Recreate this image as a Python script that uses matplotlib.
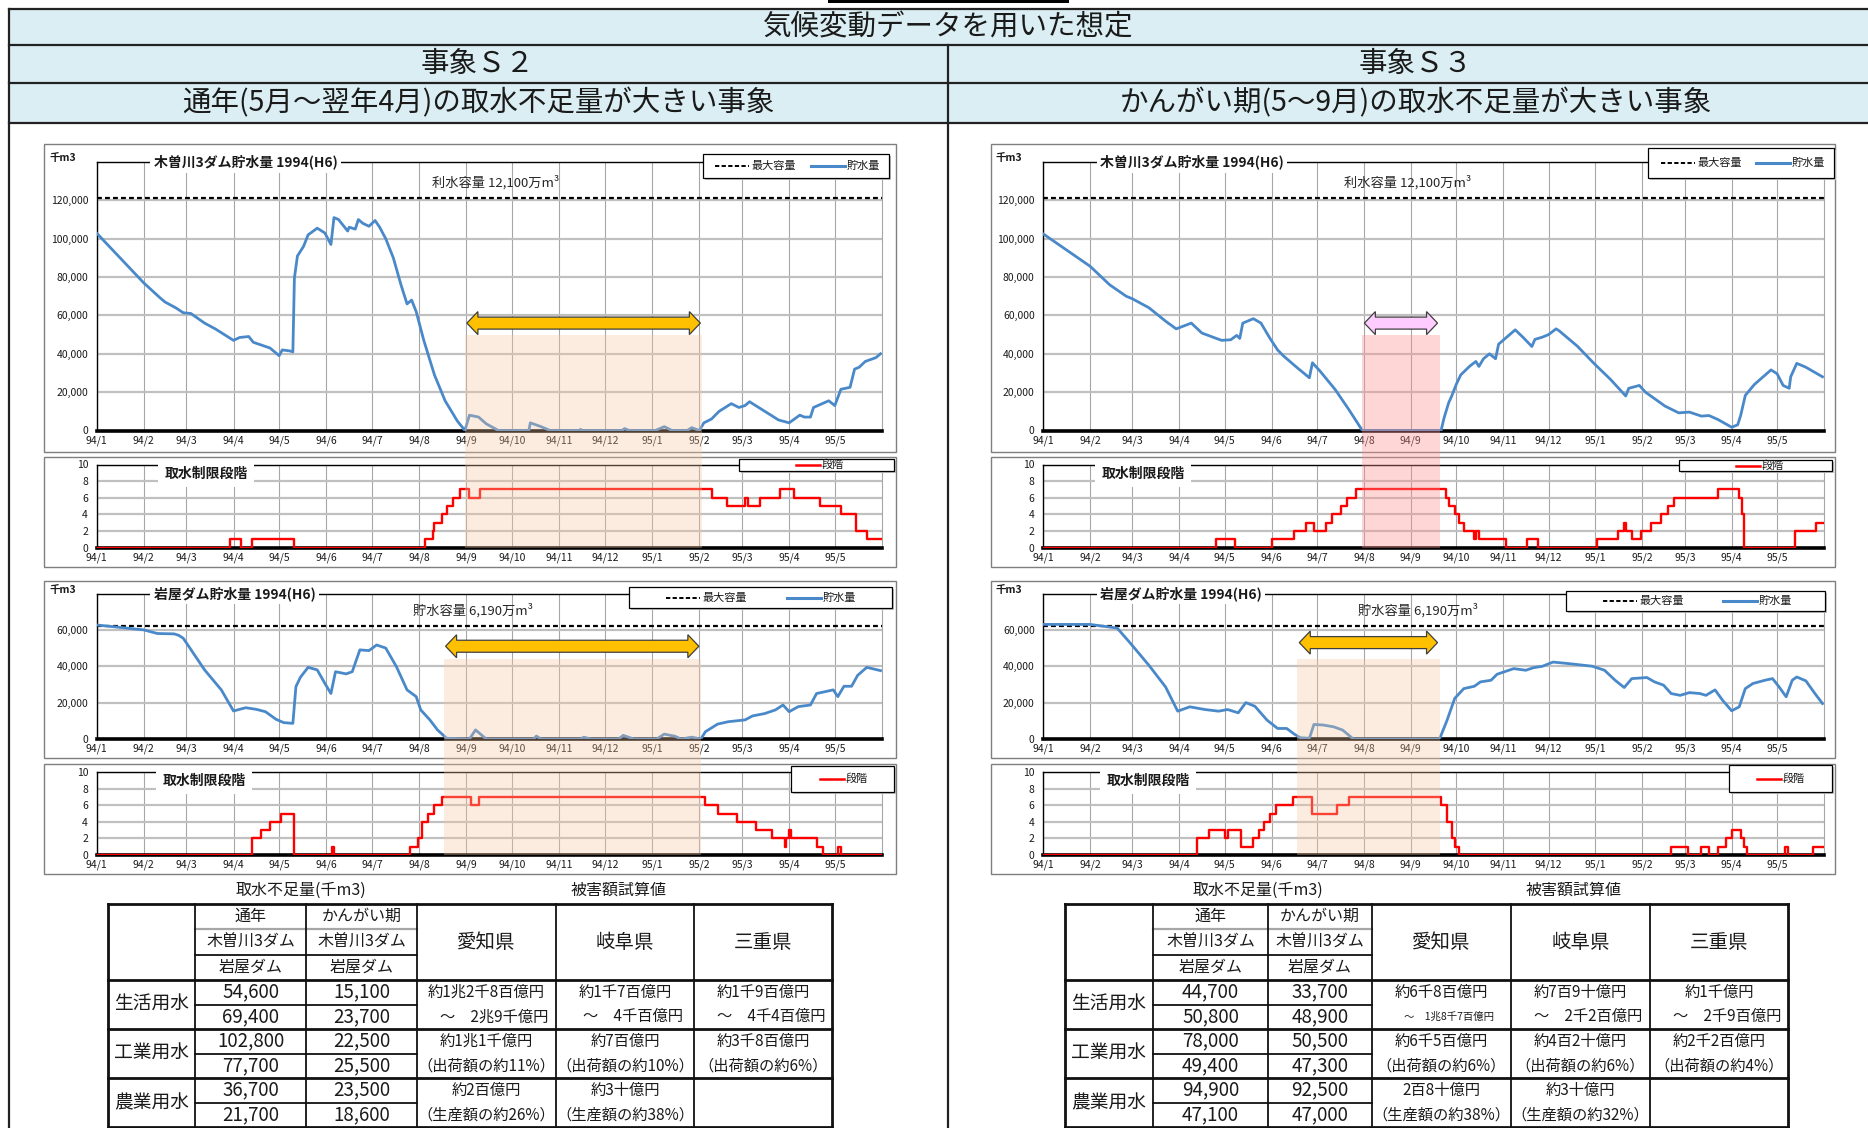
import numpy as np
import matplotlib
matplotlib.use('Agg')
import matplotlib.pyplot as plt
import matplotlib.dates as mdates
from matplotlib.lines import Line2D
from matplotlib.patches import Rectangle, Polygon

plt.rcParams['font.family'] = ['Noto Sans CJK JP', 'DejaVu Sans']

W, H = 1868, 1128

# ---------------------------------------------------------------- data
MONTH_LABELS = ['94/1', '94/2', '94/3', '94/4', '94/5', '94/6', '94/7', '94/8', '94/9',
                '94/10', '94/11', '94/12', '95/1', '95/2', '95/3', '95/4', '95/5']
PERIOD_START = '1994-01-01'
PERIOD_END = '1995-06-01'

KISO_CAPACITY = 121000   # 千m3 (12,100万m3)
IWAYA_CAPACITY = 61900   # 千m3 (6,190万m3)

# 木曽川3ダム 貯水量 (千m3), 事象S2
S2_KISO_STORAGE = [
    ('1994-01-01', 103000), ('1994-02-01', 77000), ('1994-02-12', 69000), ('1994-02-15', 67000),
    ('1994-02-22', 64000), ('1994-02-27', 61400), ('1994-03-04', 61000), ('1994-03-13', 56000),
    ('1994-03-20', 53000), ('1994-04-01', 47000), ('1994-04-05', 48500), ('1994-04-11', 49000),
    ('1994-04-14', 46000), ('1994-04-25', 43000), ('1994-05-01', 39000), ('1994-05-03', 42000),
    ('1994-05-08', 41500), ('1994-05-10', 41000), ('1994-05-11', 79500), ('1994-05-13', 91000),
    ('1994-05-17', 96000), ('1994-05-20', 102000), ('1994-05-26', 105500), ('1994-05-31', 103000),
    ('1994-06-04', 97000), ('1994-06-06', 111000), ('1994-06-09', 110000), ('1994-06-15', 104000),
    ('1994-06-16', 106000), ('1994-06-20', 105000), ('1994-06-22', 110000), ('1994-06-25', 108000),
    ('1994-06-29', 106500), ('1994-07-03', 109500), ('1994-07-06', 106000), ('1994-07-10', 100000),
    ('1994-07-15', 90000), ('1994-07-20', 76000), ('1994-07-24', 66000), ('1994-07-27', 68000),
    ('1994-07-30', 62000), ('1994-08-04', 47000), ('1994-08-11', 29000), ('1994-08-18', 15500),
    ('1994-08-26', 5000), ('1994-08-31', 0), ('1994-09-03', 8000), ('1994-09-09', 7000),
    ('1994-09-14', 3500), ('1994-09-22', 0), ('1994-10-12', 0), ('1994-10-13', 4000),
    ('1994-10-20', 2000), ('1994-10-26', 0), ('1994-11-14', 0), ('1994-11-15', 600),
    ('1994-11-16', 0), ('1994-12-12', 0), ('1994-12-14', 1000), ('1994-12-17', 0),
    ('1995-01-03', 0), ('1995-01-09', 2000), ('1995-01-14', 0), ('1995-01-24', 0),
    ('1995-01-27', 1500), ('1995-02-01', 0), ('1995-02-04', 4000), ('1995-02-09', 6000),
    ('1995-02-14', 10000), ('1995-02-22', 14000), ('1995-02-27', 12000), ('1995-03-03', 13000),
    ('1995-03-06', 15000), ('1995-03-12', 12000), ('1995-03-19', 8500), ('1995-03-25', 5500),
    ('1995-04-01', 4000), ('1995-04-08', 8000), ('1995-04-11', 7000), ('1995-04-15', 7000),
    ('1995-04-17', 12000), ('1995-04-27', 15500), ('1995-05-01', 13000), ('1995-05-05', 21500),
    ('1995-05-11', 22500), ('1995-05-14', 32000), ('1995-05-17', 33000), ('1995-05-21', 36000),
    ('1995-05-28', 38000), ('1995-05-31', 40000),
]
# 取水制限段階 (change date, stage)
S2_KISO_STAGE = [
    ('1994-01-01', 0), ('1994-03-30', 1), ('1994-04-06', 0), ('1994-04-13', 1), ('1994-05-11', 0),
    ('1994-08-05', 1), ('1994-08-10', 2), ('1994-08-11', 3), ('1994-08-16', 4), ('1994-08-19', 5),
    ('1994-08-23', 6), ('1994-08-28', 7), ('1994-09-03', 6), ('1994-09-10', 7), ('1995-02-09', 6),
    ('1995-02-19', 5), ('1995-03-03', 6), ('1995-03-05', 5), ('1995-03-13', 6), ('1995-03-26', 7),
    ('1995-04-04', 6), ('1995-04-21', 5), ('1995-05-05', 4), ('1995-05-15', 2), ('1995-05-22', 1),
    ('1995-06-01', 1),
]

# 岩屋ダム 貯水量 (千m3), 事象S2
S2_IWAYA_STORAGE = [
    ('1994-01-01', 62700), ('1994-02-01', 60000), ('1994-02-10', 58000), ('1994-02-21', 57800),
    ('1994-02-24', 57000), ('1994-02-27', 55400), ('1994-03-13', 38000), ('1994-03-24', 27000),
    ('1994-04-01', 15400), ('1994-04-09', 17200), ('1994-04-16', 16300), ('1994-04-22', 15000),
    ('1994-04-29', 10800), ('1994-05-04', 9000), ('1994-05-10', 8600), ('1994-05-12', 28800),
    ('1994-05-15', 34000), ('1994-05-20', 39400), ('1994-05-26', 38000), ('1994-05-31', 30600),
    ('1994-06-04', 25000), ('1994-06-07', 37000), ('1994-06-14', 35800), ('1994-06-18', 37000),
    ('1994-06-23', 49000), ('1994-06-29', 48600), ('1994-07-04', 51700), ('1994-07-10', 50000),
    ('1994-07-17', 39800), ('1994-07-24', 27000), ('1994-07-30', 23300), ('1994-08-02', 16000),
    ('1994-08-08', 10500), ('1994-08-13', 5000), ('1994-08-19', 400), ('1994-09-03', 0),
    ('1994-09-07', 5000), ('1994-09-14', 0), ('1994-10-15', 0), ('1994-10-17', 1600),
    ('1994-10-20', 0), ('1994-11-15', 0), ('1994-11-17', 1000), ('1994-11-22', 0),
    ('1994-12-10', 0), ('1994-12-13', 2000), ('1994-12-20', 0), ('1995-01-04', 0),
    ('1995-01-09', 2700), ('1995-01-16', 1500), ('1995-01-20', 0), ('1995-01-27', 1000),
    ('1995-02-02', 0), ('1995-02-05', 4000), ('1995-02-13', 8200), ('1995-02-20', 9500),
    ('1995-03-03', 10500), ('1995-03-08', 12700), ('1995-03-16', 14000), ('1995-03-23', 16000),
    ('1995-03-28', 18700), ('1995-04-01', 15000), ('1995-04-07', 17800), ('1995-04-15', 18700),
    ('1995-04-19', 25000), ('1995-04-30', 27000), ('1995-05-03', 23300), ('1995-05-07', 29000),
    ('1995-05-12', 29000), ('1995-05-16', 35000), ('1995-05-22', 39400), ('1995-05-31', 37600),
]
S2_IWAYA_STAGE = [
    ('1994-01-01', 0), ('1994-04-13', 2), ('1994-04-19', 3), ('1994-04-25', 4), ('1994-05-02', 5),
    ('1994-05-11', 0), ('1994-06-05', 1), ('1994-06-06', 0), ('1994-07-26', 1), ('1994-07-31', 2),
    ('1994-08-03', 4), ('1994-08-07', 5), ('1994-08-11', 6), ('1994-08-16', 7), ('1994-09-04', 6),
    ('1994-09-09', 7), ('1995-02-05', 6), ('1995-02-13', 5), ('1995-02-26', 4), ('1995-03-10', 3),
    ('1995-03-21', 2), ('1995-03-29', 1), ('1995-03-30', 2), ('1995-04-01', 3), ('1995-04-02', 2),
    ('1995-04-19', 1), ('1995-04-23', 0), ('1995-05-03', 1), ('1995-05-05', 0), ('1995-06-01', 0),
]

# 木曽川3ダム 貯水量 (千m3), 事象S3
S3_KISO_STORAGE = [
    ('1994-01-01', 102600), ('1994-02-01', 85700), ('1994-02-06', 82000), ('1994-02-14', 76000),
    ('1994-02-25', 70000), ('1994-03-01', 68700), ('1994-03-12', 64000), ('1994-03-23', 57000),
    ('1994-03-30', 53000), ('1994-04-09', 56000), ('1994-04-16', 50800), ('1994-04-29', 47000),
    ('1994-05-05', 47300), ('1994-05-09', 49600), ('1994-05-11', 48000), ('1994-05-13', 56000),
    ('1994-05-20', 58300), ('1994-05-25', 56000), ('1994-05-31', 48000), ('1994-06-05', 42000),
    ('1994-06-09', 38800), ('1994-06-18', 32700), ('1994-06-26', 27500), ('1994-06-28', 35300),
    ('1994-07-03', 31000), ('1994-07-13', 21400), ('1994-07-22', 11000), ('1994-07-31', 0),
    ('1994-09-21', 0), ('1994-09-23', 6600), ('1994-09-26', 14400), ('1994-09-28', 17900),
    ('1994-10-01', 24000), ('1994-10-04', 29000), ('1994-10-10', 33600), ('1994-10-14', 36000),
    ('1994-10-16', 33400), ('1994-10-19', 37400), ('1994-10-23', 40000), ('1994-10-27', 37400),
    ('1994-10-29', 45000), ('1994-11-09', 52500), ('1994-11-14', 48700), ('1994-11-20', 43800),
    ('1994-11-22', 47500), ('1994-11-27', 48700), ('1994-12-01', 50000), ('1994-12-06', 53000),
    ('1994-12-08', 52000), ('1994-12-20', 44000), ('1994-12-31', 35000), ('1995-01-11', 26600),
    ('1995-01-21', 18000), ('1995-01-23', 22000), ('1995-01-30', 23500), ('1995-02-03', 20000),
    ('1995-02-16', 12700), ('1995-02-25', 9200), ('1995-03-04', 9600), ('1995-03-12', 7500),
    ('1995-03-17', 7800), ('1995-03-23', 5700), ('1995-04-01', 1700), ('1995-04-05', 3000),
    ('1995-04-07', 8000), ('1995-04-10', 18300), ('1995-04-16', 24000), ('1995-04-27', 31600),
    ('1995-05-01', 29600), ('1995-05-05', 23500), ('1995-05-09', 22000), ('1995-05-10', 28000),
    ('1995-05-14', 35000), ('1995-05-20', 33000), ('1995-05-31', 28000),
]
S3_KISO_STAGE = [
    ('1994-01-01', 0), ('1994-04-25', 1), ('1994-05-08', 0), ('1994-06-01', 1), ('1994-06-16', 2),
    ('1994-06-24', 3), ('1994-06-29', 2), ('1994-07-07', 3), ('1994-07-11', 4), ('1994-07-17', 5),
    ('1994-07-21', 6), ('1994-07-27', 7), ('1994-09-24', 6), ('1994-09-26', 5), ('1994-09-30', 4),
    ('1994-10-03', 3), ('1994-10-06', 2), ('1994-10-13', 1), ('1994-10-14', 2), ('1994-10-16', 1),
    ('1994-11-03', 0), ('1994-11-17', 1), ('1994-11-24', 0), ('1995-01-02', 1), ('1995-01-16', 2),
    ('1995-01-20', 3), ('1995-01-21', 2), ('1995-01-25', 1), ('1995-01-31', 2), ('1995-02-07', 3),
    ('1995-02-13', 4), ('1995-02-18', 5), ('1995-02-22', 6), ('1995-03-23', 7), ('1995-04-06', 6),
    ('1995-04-08', 4), ('1995-04-09', 0), ('1995-05-13', 2), ('1995-05-27', 3), ('1995-06-01', 3),
]

# 岩屋ダム 貯水量 (千m3), 事象S3
S3_IWAYA_STORAGE = [
    ('1994-01-01', 63000), ('1994-02-01', 63000), ('1994-02-10', 62000), ('1994-02-19', 61000),
    ('1994-02-28', 52400), ('1994-03-12', 40500), ('1994-03-23', 28600), ('1994-03-31', 15300),
    ('1994-04-08', 17700), ('1994-04-18', 16200), ('1994-04-27', 15300), ('1994-05-03', 16200),
    ('1994-05-10', 14400), ('1994-05-15', 20000), ('1994-05-21', 18000), ('1994-05-29', 10400),
    ('1994-06-05', 5800), ('1994-06-11', 5800), ('1994-06-16', 2700), ('1994-06-20', 700),
    ('1994-06-26', 400), ('1994-06-29', 8000), ('1994-07-05', 7700), ('1994-07-12', 6700),
    ('1994-07-18', 4900), ('1994-07-25', 0), ('1994-09-20', 0), ('1994-09-25', 10400),
    ('1994-09-30', 22300), ('1994-10-06', 27700), ('1994-10-13', 29000), ('1994-10-17', 31400),
    ('1994-10-24', 32300), ('1994-10-28', 35600), ('1994-11-08', 38700), ('1994-11-16', 37800),
    ('1994-11-21', 39200), ('1994-11-27', 40000), ('1994-12-04', 42300), ('1994-12-15', 41400),
    ('1994-12-30', 40000), ('1995-01-07', 37800), ('1995-01-14', 32300), ('1995-01-20', 28300),
    ('1995-01-25', 33200), ('1995-02-04', 33800), ('1995-02-09', 31400), ('1995-02-15', 29600),
    ('1995-02-20', 25000), ('1995-02-26', 24000), ('1995-03-04', 25500), ('1995-03-11', 25000),
    ('1995-03-15', 24000), ('1995-03-21', 27000), ('1995-03-26', 21300), ('1995-04-01', 15500),
    ('1995-04-06', 17700), ('1995-04-10', 27700), ('1995-04-15', 30500), ('1995-04-23', 32300),
    ('1995-04-28', 33200), ('1995-05-02', 29000), ('1995-05-07', 23200), ('1995-05-11', 32300),
    ('1995-05-14', 34100), ('1995-05-20', 32000), ('1995-05-26', 25000), ('1995-05-31', 19500),
]
S3_IWAYA_STAGE = [
    ('1994-01-01', 0), ('1994-04-13', 2), ('1994-04-21', 3), ('1994-05-01', 2), ('1994-05-03', 3),
    ('1994-05-12', 1), ('1994-05-20', 2), ('1994-05-24', 3), ('1994-05-27', 4), ('1994-05-31', 5),
    ('1994-06-04', 6), ('1994-06-15', 7), ('1994-06-28', 5), ('1994-07-14', 6), ('1994-07-22', 7),
    ('1994-09-21', 6), ('1994-09-25', 4), ('1994-09-28', 2), ('1994-09-30', 1), ('1994-10-03', 0),
    ('1995-02-20', 1), ('1995-03-03', 0), ('1995-03-12', 1), ('1995-03-17', 0), ('1995-03-23', 1),
    ('1995-03-28', 2), ('1995-04-01', 3), ('1995-04-07', 2), ('1995-04-09', 1), ('1995-04-11', 0),
    ('1995-05-06', 1), ('1995-05-08', 0), ('1995-05-25', 1), ('1995-06-01', 1),
]

# 取水不足期間 (shaded)
S2_KISO_SHORT = ('1994-08-31', '1995-02-03')
S2_IWAYA_SHORT = ('1994-08-17', '1995-02-02')
S3_KISO_SHORT = ('1994-07-31', '1994-09-20')
S3_IWAYA_SHORT = ('1994-06-18', '1994-09-20')

# 取水不足量 (千m3): rows = 生活/工業/農業 x (木曽川3ダム, 岩屋ダム)
USES = ['生活用水', '工業用水', '農業用水']
PREFS = ['愛知県', '岐阜県', '三重県']
S2_SHORT_YEAR = [54600, 69400, 102800, 77700, 36700, 21700]
S2_SHORT_IRRIG = [15100, 23700, 22500, 25500, 23500, 18600]
S3_SHORT_YEAR = [44700, 50800, 78000, 49400, 94900, 47100]
S3_SHORT_IRRIG = [33700, 48900, 50500, 47300, 92500, 47000]

S2_DAMAGE = [
    ['約1兆2千8百億円', '～　2兆9千億円', '約1兆1千億円', '（出荷額の約11%）', '約2百億円', '（生産額の約26%）'],
    ['約1千7百億円', '～　4千百億円', '約7百億円', '（出荷額の約10%）', '約3十億円', '（生産額の約38%）'],
    ['約1千9百億円', '～　4千4百億円', '約3千8百億円', '（出荷額の約6%）', '', ''],
]
S3_DAMAGE = [
    ['約6千8百億円', '～　1兆8千7百億円', '約6千5百億円', '（出荷額の約6%）', '2百8十億円', '（生産額の約38%）'],
    ['約7百9十億円', '～　2千2百億円', '約4百2十億円', '（出荷額の約6%）', '約3十億円', '（生産額の約32%）'],
    ['約1千億円', '～　2千9百億円', '約2千2百億円', '（出荷額の約4%）', '', ''],
]

# ---------------------------------------------------------------- helpers
fig = plt.figure(figsize=(W / 100, H / 100), dpi=100)
fig.patch.set_facecolor('white')

INK = '#1a1a1a'


def fx(x):
    return x / W


def fy(y):
    return 1 - y / H


def hline(x0, x1, y, **kw):
    fig.add_artist(Line2D([fx(x0), fx(x1)], [fy(y), fy(y)], transform=fig.transFigure, **kw))


def vline(x, y0, y1, **kw):
    fig.add_artist(Line2D([fx(x), fx(x)], [fy(y0), fy(y1)], transform=fig.transFigure, **kw))


def rect(x0, y0, x1, y1, **kw):
    fig.add_artist(Rectangle((fx(x0), fy(y1)), (x1 - x0) / W, (y1 - y0) / H,
                             transform=fig.transFigure, **kw))


def put(x, y, s, **kw):
    kw.setdefault('color', INK)
    return fig.text(fx(x), fy(y), s, **kw)


def to_px(ax, x, y):
    dx, dy = ax.transData.transform((x, y))
    return dx, H - dy


def dnum(d):
    return mdates.date2num(np.datetime64(d))


def unzip(pairs):
    d = np.array([p[0] for p in pairs], dtype='datetime64[D]')
    v = np.array([p[1] for p in pairs], dtype=float)
    return d, v


MONTH_STARTS = np.arange(np.datetime64('1994-01'), np.datetime64('1995-06'),
                         dtype='datetime64[M]').astype('datetime64[D]')


def base_axes(xr, yr):
    x0, x1 = xr
    y0, y1 = yr
    ax = fig.add_axes([fx(x0), fy(y1), (x1 - x0) / W, (y1 - y0) / H])
    ax.set_facecolor('white')
    return ax


def finish_axes(ax, ymax, yticks):
    ax.set_xlim(np.datetime64(PERIOD_START), np.datetime64(PERIOD_END))
    ax.set_ylim(0, ymax)
    ax.set_xticks(MONTH_STARTS)
    ax.set_xticklabels(MONTH_LABELS)
    ax.set_yticks(yticks)
    ax.set_yticklabels([f'{v:,}' for v in yticks])
    ax.tick_params(length=0, labelsize=7.5, labelcolor=INK)
    ax.tick_params(axis='x', pad=3.5)
    ax.tick_params(axis='y', pad=6)
    ax.grid(axis='x', color='#A6A6A6', lw=0.8)
    ax.grid(axis='y', color='#C0C0C0', lw=1.6)
    ax.set_axisbelow(True)
    for side in ('top', 'left'):
        ax.spines[side].set_color('black')
        ax.spines[side].set_linewidth(1.0)
    ax.spines['bottom'].set_color('black')
    ax.spines['bottom'].set_linewidth(2.6)
    ax.spines['right'].set_color('#A6A6A6')
    ax.spines['right'].set_linewidth(0.8)


def legend_frame(x0, y0, x1, y1):
    rect(x0 + 2, y0 + 2, x1 + 2, y1 + 2, facecolor='#BFBFBF', edgecolor='none', zorder=4)
    rect(x0, y0, x1, y1, facecolor='white', edgecolor='black', lw=0.9, zorder=4)


def storage_chart(frame, xr, yr, series, capacity, ymax, yticks, title, cap_text, cap_x,
                  legend, leg_offsets):
    rect(*frame, facecolor='none', edgecolor='#7F7F7F', lw=1.0)
    ax = base_axes(xr, yr)
    d, v = unzip(series)
    ax.axhline(capacity, color='black', lw=1.6, ls=(0, (2.2, 1.4)), zorder=3)
    ax.plot(d, v, color='#4A89C9', lw=2.0, solid_joinstyle='round', zorder=4)
    finish_axes(ax, ymax, yticks)
    put(frame[0] + 5, yr[0] - 4, '千m3', fontsize=7.5, fontweight='bold', ha='left', va='center')
    put(xr[0] + 57, yr[0], title, fontsize=10, fontweight='bold', ha='left', va='center',
        bbox=dict(facecolor='white', edgecolor='none', pad=2.5))
    cy = to_px(ax, 0, capacity)[1]
    put(cap_x, cy - 16, cap_text, fontsize=9.5, ha='center', va='center', color='#262626')
    lx0, ly0, lx1, ly1 = legend
    legend_frame(lx0, ly0, lx1, ly1)
    lyc = (ly0 + ly1) / 2
    a, b = leg_offsets
    hline(lx0 + a, lx0 + a + 34, lyc, color='black', lw=1.4, ls=(0, (2.2, 1.2)), zorder=5)
    put(lx0 + a + 36, lyc, '最大容量', fontsize=8, ha='left', va='center', zorder=5)
    hline(lx0 + b, lx0 + b + 34, lyc, color='#4A89C9', lw=2.2, zorder=5)
    put(lx0 + b + 36, lyc, '貯水量', fontsize=8, ha='left', va='center', zorder=5)
    return ax


def stage_chart(frame, xr, yr, series, legend, leg_offset, title_cx):
    rect(*frame, facecolor='none', edgecolor='#7F7F7F', lw=1.0)
    ax = base_axes(xr, yr)
    d, v = unzip(series)
    ax.plot(d, v, drawstyle='steps-post', color='#FF0000', lw=1.7, zorder=4)
    finish_axes(ax, 10, list(range(0, 11, 2)))
    put(title_cx, yr[0] + 9, '取水制限段階', fontsize=10, fontweight='bold', ha='center',
        va='center', bbox=dict(facecolor='white', edgecolor='none', pad=4.5))
    lx0, ly0, lx1, ly1 = legend
    legend_frame(lx0, ly0, lx1, ly1)
    lyc = (ly0 + ly1) / 2
    hline(lx0 + leg_offset, lx0 + leg_offset + 24, lyc, color='#FF0000', lw=1.8, zorder=5)
    put(lx0 + leg_offset + 26, lyc, '段階', fontsize=8, ha='left', va='center', zorder=5)
    return ax


def overlay(ax_top, ax_bot, period, top_value, color, alpha):
    x0, y0 = to_px(ax_top, dnum(period[0]), top_value)
    x1, _ = to_px(ax_top, dnum(period[1]), top_value)
    _, y1 = to_px(ax_bot, dnum(period[0]), 0)
    rect(x0, y0, x1, y1, facecolor=color, edgecolor='none', alpha=alpha, zorder=2)


def double_arrow(ax, period, value, color):
    x0, yc = to_px(ax, dnum(period[0]), value)
    x1, _ = to_px(ax, dnum(period[1]), value)
    x0 += 2
    x1 -= 2
    hl, hw, sw = 11, 11.5, 6
    pts = [(x0, yc), (x0 + hl, yc - hw), (x0 + hl, yc - sw), (x1 - hl, yc - sw),
           (x1 - hl, yc - hw), (x1, yc), (x1 - hl, yc + hw), (x1 - hl, yc + sw),
           (x0 + hl, yc + sw), (x0 + hl, yc + hw)]
    fig.add_artist(Polygon([(fx(a), fy(b)) for a, b in pts], closed=True,
                           transform=fig.transFigure, facecolor=color,
                           edgecolor='#3F3F3F', lw=0.9, zorder=3))


ROW_Y = [904, 929, 955, 980, 1004.5, 1029, 1053.5, 1078, 1102.5, 1127]


def damage_table(xs, year_vals, irr_vals, damage, small_second=False):
    x0, x1, x2, x3, x4, x5, x6 = xs
    r = ROW_Y
    thick = dict(color='#111111', lw=2.0)
    thin = dict(color='#111111', lw=1.3)
    put((x1 + x3) / 2 - 5, 890, '取水不足量(千m3)', fontsize=11.5, ha='center', va='center')
    put((x3 + x6) / 2 - 6, 890, '被害額試算値', fontsize=11.5, ha='center', va='center')

    hline(x0, x6, r[0], **thick)
    hline(x1, x3, r[1], color='#A6A6A6', lw=1.6)
    hline(x1, x3, r[2], **thin)
    for k in (3, 5, 7, 9):
        hline(x0, x6, r[k], **thick)
    for k in (4, 6, 8):
        hline(x1, x3, r[k], **thin)
    vline(x0, r[0], r[9], **thick)
    vline(x6, r[0], r[9], **thick)
    for x in (x1, x2, x3, x4, x5):
        vline(x, r[0], r[9], **thin)

    for xa, xb, s in ((x1, x2, '通年'), (x2, x3, 'かんがい期')):
        put((xa + xb) / 2, (r[0] + r[1]) / 2, s, fontsize=11.5, ha='center', va='center')
        put((xa + xb) / 2, (r[1] + r[2]) / 2, '木曽川3ダム', fontsize=11.5, ha='center', va='center')
        put((xa + xb) / 2, (r[2] + r[3]) / 2, '岩屋ダム', fontsize=11.5, ha='center', va='center')
    for i, p in enumerate(PREFS):
        xa, xb = xs[3 + i], xs[4 + i]
        put((xa + xb) / 2, (r[0] + r[3]) / 2, p, fontsize=14, ha='center', va='center')

    for g, use in enumerate(USES):
        ya, yb = r[3 + 2 * g], r[5 + 2 * g]
        put((x0 + x1) / 2, (ya + yb) / 2, use, fontsize=13.5, ha='center', va='center')

    for i in range(6):
        yc = (r[3 + i] + r[4 + i]) / 2
        put((x1 + x2) / 2, yc, f'{year_vals[i]:,}', fontsize=13.5, ha='center', va='center')
        put((x2 + x3) / 2, yc, f'{irr_vals[i]:,}', fontsize=13.5, ha='center', va='center')
        for j in range(3):
            s = damage[j][i]
            if not s:
                continue
            xa, xb = xs[3 + j], xs[4 + j]
            xc = (xa + xb) / 2
            fs = 11
            if i == 1:
                xc += 8
                if small_second and j == 0:
                    fs = 7.5
            put(xc, yc, s, fontsize=fs, ha='center', va='center')


# ---------------------------------------------------------------- header
rect(828, 0, 1069, 3, facecolor='black', edgecolor='none')
rect(9, 9, W + 5, 123, facecolor='#DAEEF3', edgecolor='none')
for y in (9, 45, 83, 123):
    hline(9, W, y, color='#222222', lw=1.6)
vline(9, 9, H, color='#222222', lw=1.6)
vline(948, 45, H, color='#222222', lw=1.6)

HEAD_FS = 20.5
put(948, 27, '気候変動データを用いた想定', fontsize=HEAD_FS, ha='center', va='center')
put(478, 64, '事象Ｓ２', fontsize=HEAD_FS, ha='center', va='center')
put(1416, 64, '事象Ｓ３', fontsize=HEAD_FS, ha='center', va='center')
put(478, 103, '通年(5月～翌年4月)の取水不足量が大きい事象', fontsize=HEAD_FS, ha='center', va='center')
put(1416, 103, 'かんがい期(5～9月)の取水不足量が大きい事象', fontsize=HEAD_FS, ha='center', va='center')

# ---------------------------------------------------------------- charts
L_FRAME = (44, 896)
L_PLOT = (96.5, 882)
R_FRAME = (991, 1835)
R_PLOT = (1043, 1824)

ST_TOP = dict(frame=(144, 452), plot=(162, 430.5))
SG_TOP = dict(frame=(457, 567), plot=(464.5, 547.5))
ST_BOT = dict(frame=(581, 758), plot=(593.5, 739))
SG_BOT = dict(frame=(764, 874), plot=(772, 855))


def frame_of(cols, rows):
    return (cols[0], rows['frame'][0], cols[1], rows['frame'][1])


kiso_ticks = list(range(0, 120001, 20000))
iwaya_ticks = list(range(0, 60001, 20000))

# 事象S2 (left column)
ax_l1 = storage_chart(frame_of(L_FRAME, ST_TOP), L_PLOT, ST_TOP['plot'], S2_KISO_STORAGE,
                      KISO_CAPACITY, 140000, kiso_ticks, '木曽川3ダム貯水量 1994(H6)',
                      '利水容量 12,100万m³', 496, (703, 154, 889, 178), (12, 108))
ax_l2 = stage_chart(frame_of(L_FRAME, SG_TOP), L_PLOT, SG_TOP['plot'], S2_KISO_STAGE,
                    (739, 459, 894, 471), 57, 206)
ax_l3 = storage_chart(frame_of(L_FRAME, ST_BOT), L_PLOT, ST_BOT['plot'], S2_IWAYA_STORAGE,
                      IWAYA_CAPACITY, 80000, iwaya_ticks, '岩屋ダム貯水量 1994(H6)',
                      '貯水容量 6,190万m³', 473, (629, 587, 892, 608), (37, 158))
ax_l4 = stage_chart(frame_of(L_FRAME, SG_BOT), L_PLOT, SG_BOT['plot'], S2_IWAYA_STAGE,
                    (791, 766, 894, 792), 29, 204)

# 事象S3 (right column)
ax_r1 = storage_chart(frame_of(R_FRAME, ST_TOP), R_PLOT, ST_TOP['plot'], S3_KISO_STORAGE,
                      KISO_CAPACITY, 140000, kiso_ticks, '木曽川3ダム貯水量 1994(H6)',
                      '利水容量 12,100万m³', 1408, (1648, 148, 1834, 178), (13, 108))
ax_r2 = stage_chart(frame_of(R_FRAME, SG_TOP), R_PLOT, SG_TOP['plot'], S3_KISO_STAGE,
                    (1679, 460, 1832, 471), 57, 1143)
ax_r3 = storage_chart(frame_of(R_FRAME, ST_BOT), R_PLOT, ST_BOT['plot'], S3_IWAYA_STORAGE,
                      IWAYA_CAPACITY, 80000, iwaya_ticks, '岩屋ダム貯水量 1994(H6)',
                      '貯水容量 6,190万m³', 1418, (1566, 591, 1825, 611), (37, 157))
ax_r4 = stage_chart(frame_of(R_FRAME, SG_BOT), R_PLOT, SG_BOT['plot'], S3_IWAYA_STAGE,
                    (1729, 765, 1832, 792), 28, 1148)

# shortage periods: translucent band through both panels + double arrow above
PEACH = '#F7C7A3'
overlay(ax_l1, ax_l2, S2_KISO_SHORT, 50000, PEACH, 0.33)
double_arrow(ax_l1, S2_KISO_SHORT, 56000, '#FFC000')
overlay(ax_l3, ax_l4, S2_IWAYA_SHORT, 44000, PEACH, 0.33)
double_arrow(ax_l3, S2_IWAYA_SHORT, 51000, '#FFC000')
overlay(ax_r1, ax_r2, S3_KISO_SHORT, 50000, '#FF8F8F', 0.36)
double_arrow(ax_r1, S3_KISO_SHORT, 56000, '#FFCCFF')
overlay(ax_r3, ax_r4, S3_IWAYA_SHORT, 44000, PEACH, 0.33)
double_arrow(ax_r3, S3_IWAYA_SHORT, 53000, '#FFC000')

# ---------------------------------------------------------------- tables
damage_table([108, 195, 306, 417, 556, 694, 832], S2_SHORT_YEAR, S2_SHORT_IRRIG, S2_DAMAGE)
damage_table([1065, 1153, 1268, 1372, 1511, 1650, 1788], S3_SHORT_YEAR, S3_SHORT_IRRIG,
             S3_DAMAGE, small_second=True)

fig.savefig('out.png', dpi=100, facecolor='white')
